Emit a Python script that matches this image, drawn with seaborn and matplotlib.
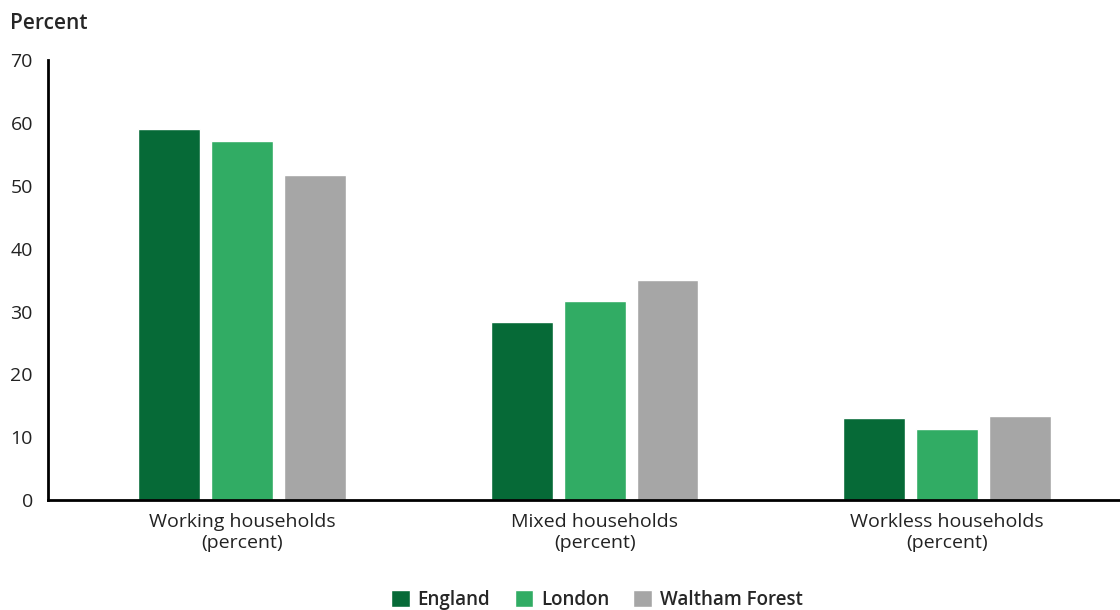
import pandas as pd
import seaborn as sns
import matplotlib.pyplot as plt

# Dati
categories = ["Working households\n(percent)", "Mixed households\n(percent)", "Workless households\n(percent)"]
england = [59.0, 28.3, 13.0]
london = [57.1, 31.7, 11.3]
waltham_forest = [51.7, 35.0, 13.4]
areas = ["England", "London", "Waltham Forest"]
colors = ["#066a37", "#31ac64", "#a6a6a6"]

df = pd.DataFrame({
    "category": categories * 3,
    "area": [a for a in areas for _ in categories],
    "value": england + london + waltham_forest,
})

sns.set_style("white")
plt.rcParams["font.family"] = ["Open Sans", "DejaVu Sans"]

fig = plt.figure(figsize=(11.2, 6.1), dpi=100)
ax = fig.add_axes([0.043, 0.18, 0.957, 0.7213])

sns.barplot(data=df, x="category", y="value", hue="area", palette=colors,
            width=0.62, gap=0.15, saturation=1, ax=ax, legend=True)

ax.set_ylim(0, 70)
ax.set_xlim(-0.55, 2.49)
ax.set_yticks(range(0, 71, 10))
ax.set_xlabel("")
ax.set_ylabel("")
ax.tick_params(axis="both", length=0, labelsize=14, colors="#222222")
ax.tick_params(axis="y", pad=11)
ax.tick_params(axis="x", pad=9)
for lbl in ax.get_xticklabels():
    lbl.set_linespacing(1.2)
for s in ["top", "right"]:
    ax.spines[s].set_visible(False)
for s in ["left", "bottom"]:
    ax.spines[s].set_color("black")
    ax.spines[s].set_linewidth(2)

fig.text(0.009, 0.962, "Percent", fontsize=15, fontweight="semibold", ha="left", va="center")

ax.legend(loc="center", bbox_to_anchor=(0.512, -0.227), bbox_transform=ax.transAxes,
          ncol=3, frameon=False, handlelength=1.0, handleheight=1.0,
          handletextpad=0.4, columnspacing=1.3,
          prop={"weight": "semibold", "size": 13.5})

fig.savefig("out.png", dpi=100)
